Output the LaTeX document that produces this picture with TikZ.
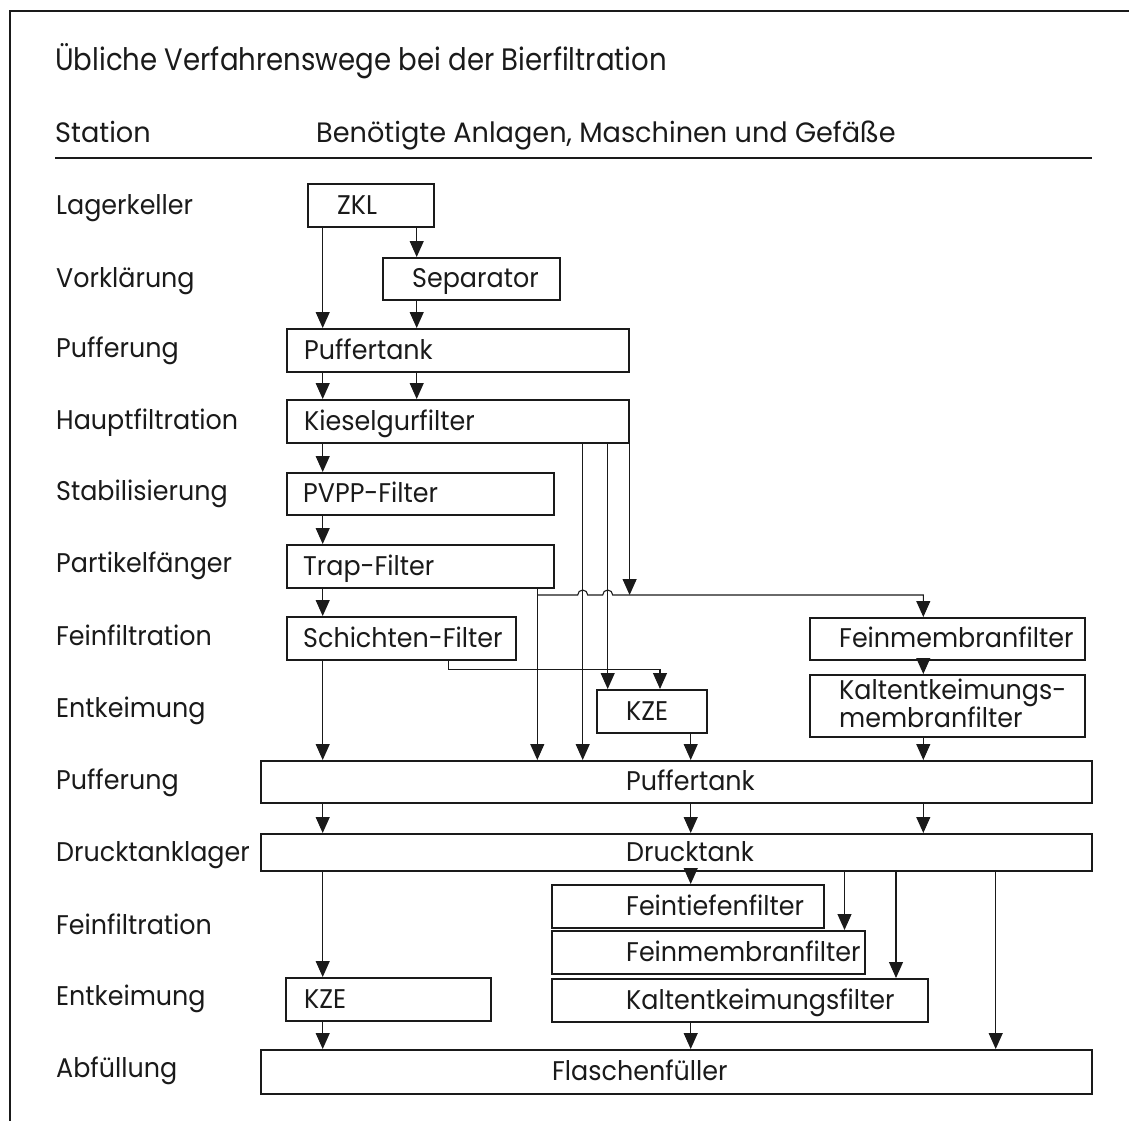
\documentclass[tikz,border=0pt]{standalone}
\usepackage{graphicx}
\usepackage{fontspec}
\setmainfont{Poppins}
\usetikzlibrary{arrows.meta,calc}
\definecolor{ink}{HTML}{1A1A1A}
\newcommand\sq[1]{\scalebox{0.94}[1]{#1}}
\newcommand\mybox[7]{%
  \node[box, minimum width={#4-#2}, minimum height={#5-#3}] (#1) at (#2,#3) {};
  \node[txt] (#1-t) at (#6,{(#3+#5)/2+9.5}) {\sq{#7}};
}
\tikzset{tip/.tip={Triangle[width=14pt,length=16pt]}}
\begin{document}
\begin{tikzpicture}[x=1pt,y=-1pt,
  box/.style={draw=ink, line width=1.6pt, anchor=north west, inner sep=0pt},
  txt/.style={anchor=base west, inner sep=0pt, font=\fontsize{27}{29}\selectfont, text=ink},
  lbl/.style={txt},
  conn/.style={draw=ink, line width=1.1pt},
  arr/.style={conn, -tip},
]
\path[use as bounding box] (0,0) rectangle (1129,1120);
\begin{scope}
\clip (0,0) rectangle (1129,1120);
\draw[ink, line width=2.4pt] (10,1140) |- (1150,11);
\end{scope}

% title and header
\node[txt, font=\fontsize{31}{35}\selectfont] (title) at (55,70) {\scalebox{0.89}[1]{Übliche Verfahrenswege bei der Bierfiltration}};
\node[txt, font=\fontsize{28}{32}\selectfont] (hstation) at (55,142) {\scalebox{0.97}[1]{Station}};
\node[txt, font=\fontsize{28}{32}\selectfont] (hanlagen) at (316,142) {\scalebox{0.97}[1]{Benötigte Anlagen, Maschinen und Gefäße}};
\coordinate (hl1) at (55,158);
\coordinate (hl2) at (1092,158);
\draw[ink, line width=1.3pt] (hl1) -- (hl2);

% station labels
\node[lbl] (s1) at (56,214) {\sq{Lagerkeller}};
\node[lbl] (s2) at (56,287) {\sq{Vorklärung}};
\node[lbl] (s3) at (56,357) {\sq{Pufferung}};
\node[lbl] (s4) at (56,429) {\sq{Hauptfiltration}};
\node[lbl] (s5) at (56,500) {\sq{Stabilisierung}};
\node[lbl] (s6) at (56,572) {\sq{Partikelfänger}};
\node[lbl] (s7) at (56,645) {\sq{Feinfiltration}};
\node[lbl] (s8) at (56,717) {\sq{Entkeimung}};
\node[lbl] (s9) at (56,789) {\sq{Pufferung}};
\node[lbl] (s10) at (56,861) {\sq{Drucktanklager}};
\node[lbl] (s11) at (56,934) {\sq{Feinfiltration}};
\node[lbl] (s12) at (56,1005) {\sq{Entkeimung}};
\node[lbl] (s13) at (56,1077) {\sq{Abfüllung}};

% boxes
\mybox{zkl}{307}{183}{433}{226}{337}{ZKL}
\mybox{sep}{382}{257}{559}{299}{412}{Separator}
\mybox{puf1}{286}{328}{628}{371}{304}{Puffertank}
\mybox{kies}{286}{399}{628}{442}{304}{Kieselgurfilter}
\mybox{pvpp}{286}{472}{553}{514}{303}{PVPP-Filter}
\mybox{trap}{286}{544}{553}{587}{303}{Trap-Filter}
\mybox{sch}{286}{616}{515}{659}{303}{Schichten-Filter}
\mybox{kze1}{596}{689}{706}{732}{626}{KZE}
\mybox{fm1}{809}{617}{1084}{659}{839}{Feinmembranfilter}
\node[box, minimum width=275, minimum height=62] (kk) at (809,674) {};
\node[txt, anchor=base west] (kk-t) at (839,699) {\sq{\begin{tabular}[t]{@{}l@{}}Kaltentkeimungs-\\[-1pt]membranfilter\end{tabular}}};
\mybox{puf2}{260}{760}{1091}{802}{626}{Puffertank}
\mybox{druck}{260}{833}{1091}{870}{626}{Drucktank}
\mybox{ft}{551}{884}{823}{927}{626}{Feintiefenfilter}
\mybox{fm2}{551}{930}{864}{973}{626}{Feinmembranfilter}
\mybox{kf}{551}{978}{927}{1021}{626}{Kaltentkeimungsfilter}
\mybox{kze2}{285}{977}{490}{1020}{304}{KZE}
\mybox{fl}{260}{1049}{1091}{1093}{552}{Flaschenfüller}

% columns
\coordinate (cA) at (322.7,0);
\coordinate (cB) at (416.7,0);
\coordinate (cS) at (448.3,0);
\coordinate (cT) at (537.3,0);
\coordinate (cK1) at (582.7,0);
\coordinate (cK2) at (607.7,0);
\coordinate (cZ) at (660,0);
\coordinate (cD) at (690.7,0);
\coordinate (cE1) at (844.5,0);
\coordinate (cE2) at (896,0);
\coordinate (cM) at (923.3,0);
\coordinate (cE3) at (995.7,0);
\coordinate (hj) at (0,595);
\coordinate (hs) at (0,669.3);

% connectors
\draw[arr] (zkl.south -| cA) -- (puf1.north -| cA);
\draw[arr] (zkl.south -| cB) -- (sep.north -| cB);
\draw[arr] (sep.south -| cB) -- (puf1.north -| cB);
\draw[arr] (puf1.south -| cA) -- (kies.north -| cA);
\draw[arr] (puf1.south -| cB) -- (kies.north -| cB);
\draw[arr] (kies.south -| cA) -- (pvpp.north -| cA);
\draw[arr] (pvpp.south -| cA) -- (trap.north -| cA);
\draw[arr] (trap.south -| cA) -- (sch.north -| cA);
\draw[arr] (sch.south -| cA) -- (puf2.north -| cA);
\draw[arr] (trap.south -| cT) -- (puf2.north -| cT);
\draw[arr] (kies.south -| cK1) -- (puf2.north -| cK1);
\draw[arr] (kies.south -| cK2) -- (kze1.north -| cK2);
\draw[arr] (kies.south east) -- (kies.south east |- hj);
\draw[arr] (hj -| cT) -- ($(hj -| cK1)+(-5,0)$) arc[start angle=180, end angle=0, radius=5pt]
  -- ($(hj -| cK2)+(-5,0)$) arc[start angle=180, end angle=0, radius=5pt]
  -- (hj -| cM) -- (fm1.north -| cM);
\draw[arr] (sch.south -| cS) |- (hs -| cZ) -- (kze1.north -| cZ);
\draw[arr] (kze1.south -| cD) -- (puf2.north -| cD);
\draw[arr] (fm1.south -| cM) -- (kk.north -| cM);
\draw[arr] (kk.south -| cM) -- (puf2.north -| cM);
\draw[arr] (puf2.south -| cA) -- (druck.north -| cA);
\draw[arr] (puf2.south -| cD) -- (druck.north -| cD);
\draw[arr] (puf2.south -| cM) -- (druck.north -| cM);
\draw[arr] (druck.south -| cA) -- (kze2.north -| cA);
\draw[arr] (druck.south -| cD) -- (ft.north -| cD);
\draw[arr] (druck.south -| cE1) -- (fm2.north -| cE1);
\draw[arr] (druck.south -| cE2) -- (kf.north -| cE2);
\draw[arr] (druck.south -| cE3) -- (fl.north -| cE3);
\draw[arr] (kze2.south -| cA) -- (fl.north -| cA);
\draw[arr] (kf.south -| cD) -- (fl.north -| cD);
\end{tikzpicture}
\end{document}
